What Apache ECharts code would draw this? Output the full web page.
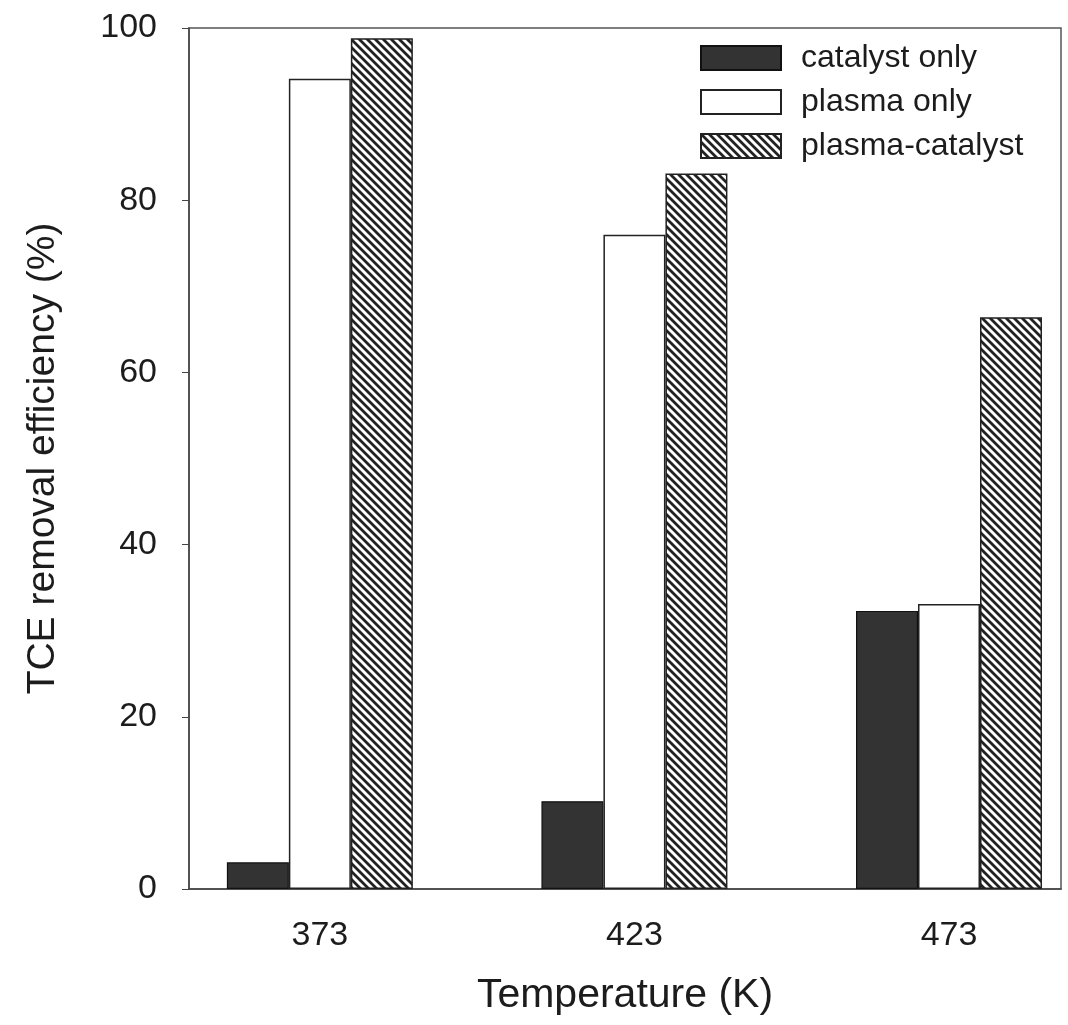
<!DOCTYPE html>
<html>
<head>
<meta charset="utf-8">
<script src="https://cdn.jsdelivr.net/npm/echarts@6/dist/echarts.min.js"></script>
<style>html,body{margin:0;padding:0;background:#fff}#c{width:1068px;height:1025px}</style>
</head>
<body>
<div id="c"></div>
<script>
const temperatures = [373, 423, 473];
const catalystOnly = [3.1, 10.2, 32.3];
const plasmaOnly = [94.1, 76.0, 33.1];
const plasmaCatalyst = [98.8, 83.1, 66.4];
const seriesNames = ['catalyst only', 'plasma only', 'plasma-catalyst'];
const yTicks = [0, 20, 40, 60, 80, 100];

function hatch() {
  const s = 8;
  const c = document.createElement('canvas');
  c.width = s; c.height = s;
  const ctx = c.getContext('2d');
  ctx.fillStyle = '#ffffff';
  ctx.fillRect(0, 0, s, s);
  ctx.strokeStyle = '#222';
  ctx.lineWidth = 2.8;
  ctx.beginPath();
  for (let k = -1; k <= 1; k++) {
    ctx.moveTo(-4, -4 + k * s);
    ctx.lineTo(s + 4, s + 4 + k * s);
  }
  ctx.stroke();
  return c;
}

const pair = arr => temperatures.map((t, i) => [t, arr[i]]);
const textColor = '#1c1c1c';
const font = 'Liberation Sans, Arial, sans-serif';

const chart = echarts.init(document.getElementById('c'), null, {renderer: 'canvas'});
chart.setOption({
  backgroundColor: '#fff',
  animation: false,
  grid: {left: 189, right: 7, top: 28, bottom: 136, show: true, borderColor: '#555', borderWidth: 1.5, backgroundColor: 'transparent'},
  legend: {
    orient: 'vertical', left: 695, top: 37,
    icon: 'rect',
    itemWidth: 80, itemHeight: 24, itemGap: 12,
    textStyle: {fontSize: 32, lineHeight: 24, color: textColor, fontFamily: font, padding: [0, 0, 0, 15]},
    data: seriesNames
  },
  xAxis: {
    type: 'value', min: 352.2, max: 490.8,
    name: 'Temperature (K)', nameLocation: 'middle', nameGap: 86,
    nameTextStyle: {fontSize: 41, color: textColor, fontFamily: font},
    splitLine: {show: false},
    axisLine: {lineStyle: {color: '#444', width: 1.5}},
    axisTick: {show: false},
    axisLabel: {customValues: temperatures, fontSize: 34, color: textColor, fontFamily: font, margin: 30}
  },
  yAxis: {
    type: 'value', min: 0, max: 100, interval: 20,
    name: 'TCE removal efficiency (%)', nameLocation: 'middle', nameGap: 126,
    nameTextStyle: {fontSize: 39, color: textColor, fontFamily: font},
    splitLine: {show: false},
    axisLine: {show: true, lineStyle: {color: '#444', width: 1.5}},
    axisTick: {show: true, inside: false, length: 7, lineStyle: {color: '#444'}},
    axisLabel: {fontSize: 34, color: textColor, fontFamily: font, margin: 32}
  },
  series: [
    {name: seriesNames[0], type: 'bar', data: pair(catalystOnly), barWidth: 62, barGap: '0%',
     itemStyle: {color: '#333', borderColor: '#111', borderWidth: 1.2}},
    {name: seriesNames[1], type: 'bar', data: pair(plasmaOnly), barWidth: 62, barGap: '0%',
     itemStyle: {color: '#fff', borderColor: '#222', borderWidth: 1.5}},
    {name: seriesNames[2], type: 'bar', data: pair(plasmaCatalyst), barWidth: 62, barGap: '0%',
     itemStyle: {color: {image: hatch(), repeat: 'repeat'}, borderColor: '#222', borderWidth: 1.5}}
  ]
});
</script>
</body>
</html>
